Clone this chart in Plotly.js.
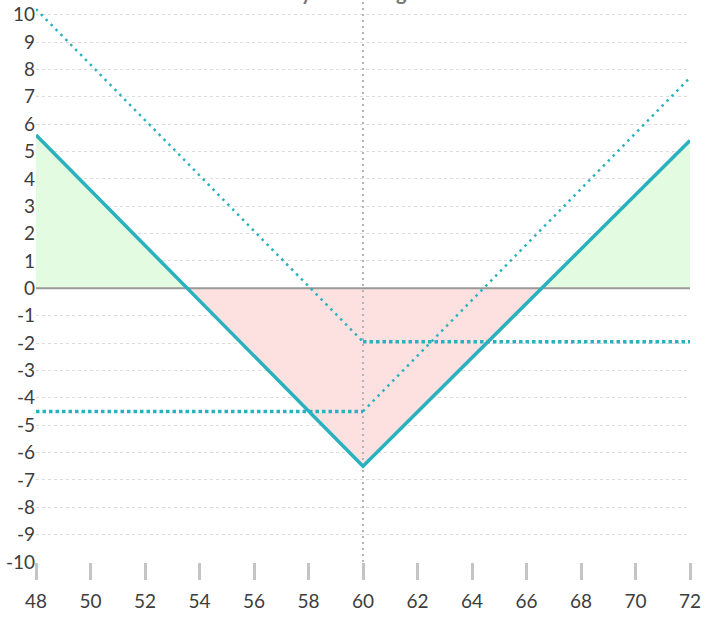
<!DOCTYPE html>
<html>
<head>
<meta charset="utf-8">
<script src="https://cdn.plot.ly/plotly-3.0.1.min.js"></script>
<style>
  html, body { margin: 0; padding: 0; background: #fff; }
  #chart { width: 720px; height: 622px; }
</style>
</head>
<body>
<div id="chart"></div>
<script>
// underlying price at expiry
const prices = [48, 60, 72];
const strike = 60;

// payoff values
const put_payoff = [10.2, -1.95, -1.95];
const call_payoff = [-4.5, -4.5, 7.7];
const straddle_payoff = [5.6, -6.5, 5.4];

const x_ticks = [48, 50, 52, 54, 56, 58, 60, 62, 64, 66, 68, 70, 72];
const y_ticks = [-10, -9, -8, -7, -6, -5, -4, -3, -2, -1, 0, 1, 2, 3, 4, 5, 6, 7, 8, 9, 10];

const TEAL = '#29b2be';

// where the straddle line crosses zero
function zero_cross(x0, y0, x1, y1) {
    return x0 + (0 - y0) * (x1 - x0) / (y1 - y0);
}
let be_low = zero_cross(prices[0], straddle_payoff[0], prices[1], straddle_payoff[1]);
let be_high = zero_cross(prices[1], straddle_payoff[1], prices[2], straddle_payoff[2]);

let traces = [];

// shaded profit / loss areas
traces.push({
    x: [prices[0], be_low], y: [straddle_payoff[0], 0],
    mode: 'lines', line: {width: 0}, fill: 'tozeroy', fillcolor: '#e3fbe0',
    hoverinfo: 'skip'
});
traces.push({
    x: [be_high, prices[2]], y: [0, straddle_payoff[2]],
    mode: 'lines', line: {width: 0}, fill: 'tozeroy', fillcolor: '#e3fbe0',
    hoverinfo: 'skip'
});
traces.push({
    x: [be_low, prices[1], be_high], y: [0, straddle_payoff[1], 0],
    mode: 'lines', line: {width: 0}, fill: 'tozeroy', fillcolor: '#fde1e1',
    hoverinfo: 'skip'
});

// zero line and strike marker
traces.push({
    x: [prices[0], prices[2]], y: [0, 0],
    mode: 'lines', line: {color: '#9a9a9a', width: 2}, hoverinfo: 'skip'
});
traces.push({
    x: [strike, strike], y: [-10, 10.5],
    mode: 'lines', line: {color: '#b5b5b5', width: 2, dash: '2px,4px'}, hoverinfo: 'skip'
});

// put leg: slope then flat
traces.push({
    x: prices.slice(0, 2), y: put_payoff.slice(0, 2),
    mode: 'lines', line: {color: TEAL, width: 2.5, dash: '2.5px,4.5px'}
});
traces.push({
    x: prices.slice(1), y: put_payoff.slice(1),
    mode: 'lines', line: {color: TEAL, width: 3.5, dash: '3.5px,3px'}
});

// call leg: flat then slope
traces.push({
    x: prices.slice(0, 2), y: call_payoff.slice(0, 2),
    mode: 'lines', line: {color: TEAL, width: 3.5, dash: '3.5px,3px'}
});
traces.push({
    x: prices.slice(1), y: call_payoff.slice(1),
    mode: 'lines', line: {color: TEAL, width: 2.5, dash: '2.5px,4.5px'}
});

// the straddle itself
traces.push({
    x: prices, y: straddle_payoff,
    mode: 'lines', line: {color: TEAL, width: 3.5}
});

let layout = {
    width: 720,
    height: 622,
    margin: {l: 36, r: 30, t: 1, b: 60},
    paper_bgcolor: '#fff',
    plot_bgcolor: '#fff',
    showlegend: false,
    font: {family: 'Lato, "Open Sans", sans-serif', color: '#3d3d3d', size: 19},
    xaxis: {
        range: [48, 72],
        tickvals: x_ticks,
        ticktext: x_ticks.map(String),
        showgrid: false,
        zeroline: false,
        showline: false,
        ticks: 'outside',
        ticklen: 17,
        tickwidth: 3,
        tickcolor: '#c4c4c4',
        ticklabelstandoff: 5,
        tickfont: {size: 19, color: '#3d3d3d'}
    },
    yaxis: {
        range: [-10, 10.5],
        tickvals: y_ticks,
        ticktext: y_ticks.map(String),
        showgrid: true,
        gridcolor: '#dcdcdc',
        griddash: 'dot',
        gridwidth: 1,
        zeroline: false,
        showline: false,
        ticks: '',
        tickfont: {size: 19, color: '#3d3d3d'}
    },
    annotations: [{
        text: '<b>Payoff of Long Straddle</b>',
        xref: 'paper', yref: 'paper',
        x: 0.53, y: 1, yanchor: 'bottom', yshift: -5,
        showarrow: false,
        font: {size: 20, color: '#777'}
    }]
};

Plotly.newPlot('chart', traces, layout, {displayModeBar: false, staticPlot: true});
</script>
</body>
</html>
